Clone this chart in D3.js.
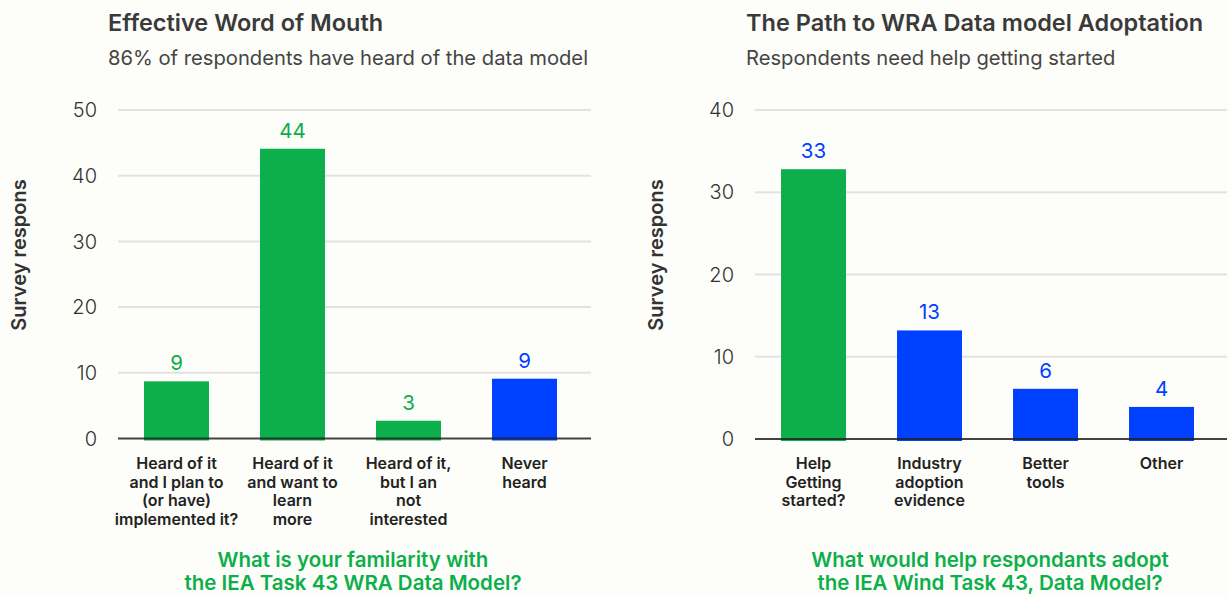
<!DOCTYPE html>
<html lang="en">
<head>
<meta charset="utf-8">
<title>WRA Data Model survey</title>
<style>
  html, body { margin: 0; padding: 0; background: #fdfdf9; }
  svg { display: block; font-family: Inter, "Noto Sans", sans-serif; }
</style>
<script src="https://cdn.jsdelivr.net/npm/d3@7"></script>
</head>
<body>
<script>
// ---- data ----
var familiarityCategories = [
  "Heard of it|and I plan to|(or have)|implemented it?",
  "Heard of it|and want to|learn|more",
  "Heard of it,|but I an|not|interested",
  "Never|heard"
];
var familiarityValues = [8.7, 44.1, 2.7, 9.1];
var familiarityTicks = [0, 10, 20, 30, 40, 50];

var adoptionCategories = [
  "Help|Getting|started?",
  "Industry|adoption|evidence",
  "Better|tools",
  "Other"
];
var adoptionValues = [32.8, 13.2, 6.1, 3.9];
var adoptionTicks = [0, 10, 20, 30, 40];

var GREEN = "#0caf4b", BLUE = "#0041ff";

var svg = d3.select("body").append("svg")
    .attr("width", 1227)
    .attr("height", 597);

svg.append("rect").attr("width", 1227).attr("height", 597).attr("fill", "#fdfdf9");

var panels = [
  {
    title: "Effective Word of Mouth",
    subtitle: "86% of respondents have heard of the data model",
    question: ["What is your familarity with", "the IEA Task 43 WRA Data Model?"],
    cats: familiarityCategories, vals: familiarityValues, ticks: familiarityTicks,
    barColors: [GREEN, GREEN, GREEN, BLUE],
    labelColors: [GREEN, GREEN, GREEN, BLUE],
    titleX: 108, axisTitleX: 19, tickX: 97, qx: 353,
    gridX: [118, 591], bandX: [118.5, 582.5], y: [438.5, 110]
  },
  {
    title: "The Path to WRA Data model Adoptation",
    subtitle: "Respondents need help getting started",
    question: ["What would help respondants adopt", "the IEA Wind Task 43, Data Model?"],
    cats: adoptionCategories, vals: adoptionValues, ticks: adoptionTicks,
    barColors: [GREEN, BLUE, BLUE, BLUE],
    labelColors: [BLUE, BLUE, BLUE, BLUE],
    titleX: 746, axisTitleX: 656, tickX: 734, qx: 990,
    gridX: [755, 1227], bandX: [755.5, 1219.5], y: [439, 110]
  }
];

panels.forEach(function (p) {
  var g = svg.append("g");

  var x = d3.scaleBand()
      .domain(p.cats)
      .range(p.bandX)
      .paddingInner(0.44)
      .paddingOuter(0.22);

  var y = d3.scaleLinear()
      .domain([0, d3.max(p.ticks)])
      .range(p.y);

  // titles
  g.append("text")
   .attr("x", p.titleX).attr("y", 31)
   .style("font-size", "23.5px").style("font-weight", 600)
   .attr("fill", "#3a3a3a")
   .text(p.title);
  g.append("text")
   .attr("x", p.titleX).attr("y", 65)
   .style("font-size", "20.2px").style("font-weight", 400)
   .attr("fill", "#454545")
   .text(p.subtitle);

  // gridlines + tick labels
  g.selectAll(".grid")
   .data(p.ticks.filter(function (t) { return t > 0; }))
   .enter().append("line")
   .attr("x1", p.gridX[0]).attr("x2", p.gridX[1])
   .attr("y1", function (d) { return y(d); })
   .attr("y2", function (d) { return y(d); })
   .attr("stroke", "#e2e2e2").attr("stroke-width", 2);

  g.selectAll(".tick")
   .data(p.ticks)
   .enter().append("text")
   .attr("x", p.tickX)
   .attr("y", function (d) { return y(d); })
   .attr("dy", "0.36em")
   .attr("text-anchor", "end")
   .style("font-size", "20px").style("font-weight", 300)
   .attr("fill", "#333")
   .text(function (d) { return d; });

  // axis title
  g.append("text")
   .attr("transform", "translate(" + p.axisTitleX + "," + 255 + ") rotate(-90)")
   .attr("text-anchor", "middle")
   .attr("dy", "0.35em")
   .style("font-size", "20px").style("font-weight", 600)
   .attr("fill", "#333")
   .text("Survey respons");

  // bars
  g.selectAll(".bar")
   .data(p.vals)
   .enter().append("rect")
   .attr("x", function (d, i) { return x(p.cats[i]); })
   .attr("width", x.bandwidth())
   .attr("y", function (d) { return y(d); })
   .attr("height", function (d) { return y(0) - y(d) + 2; })
   .attr("fill", function (d, i) { return p.barColors[i]; });

  // baseline
  g.append("line")
   .attr("x1", p.gridX[0]).attr("x2", p.gridX[1])
   .attr("y1", y(0)).attr("y2", y(0))
   .attr("stroke", "#222").attr("stroke-opacity", 0.85).attr("stroke-width", 2);

  // value labels
  g.selectAll(".val")
   .data(p.vals)
   .enter().append("text")
   .attr("x", function (d, i) { return x(p.cats[i]) + x.bandwidth() / 2; })
   .attr("y", function (d) { return y(d) - 11; })
   .attr("text-anchor", "middle")
   .style("font-size", "20.5px").style("font-weight", 400)
   .attr("fill", function (d, i) { return p.labelColors[i]; })
   .text(function (d) { return d3.format(".0f")(d); });

  // category labels
  p.cats.forEach(function (c) {
    var cx = x(c) + x.bandwidth() / 2;
    var t = g.append("text")
      .attr("x", cx)
      .attr("y", 469)
      .attr("text-anchor", "middle")
      .style("font-size", "16px").style("font-weight", 600)
      .attr("fill", "#222");
    c.split("|").forEach(function (line, i) {
      t.append("tspan")
       .attr("x", cx)
       .attr("dy", i === 0 ? 0 : 18.7)
       .text(line);
    });
  });

  // question
  var q = g.append("text")
    .attr("x", p.qx)
    .attr("y", 567)
    .attr("text-anchor", "middle")
    .style("font-size", "20.5px").style("font-weight", 600)
    .attr("fill", GREEN);
  p.question.forEach(function (line, i) {
    q.append("tspan")
     .attr("x", p.qx)
     .attr("dy", i === 0 ? 0 : 22.5)
     .text(line);
  });
});
</script>
</body>
</html>
